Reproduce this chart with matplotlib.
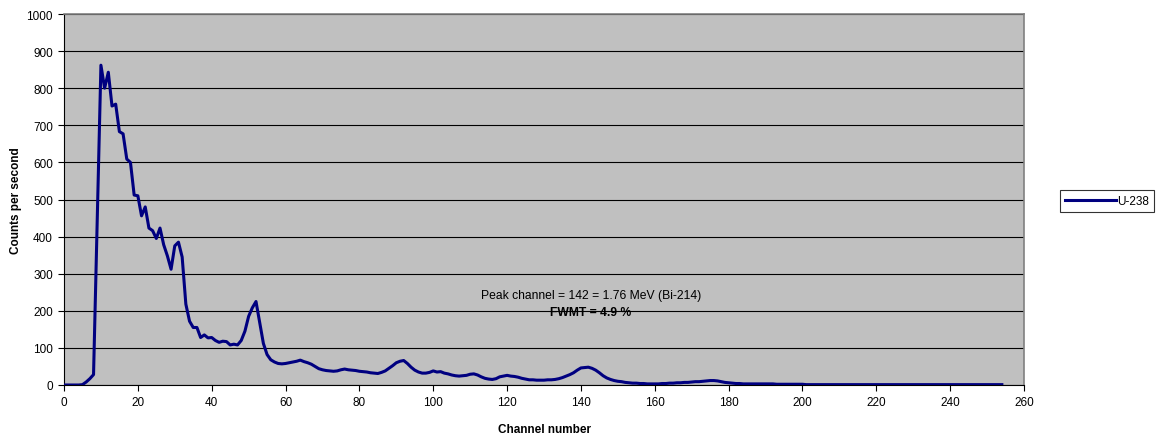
import matplotlib

matplotlib.use("Agg")
import matplotlib.pyplot as plt
import numpy as np

# U-238 gamma spectrum, counts per second per channel (channels 0..254)
counts_0_59 = [
    0, 0, 0, 0, 0, 1, 8, 17, 28, 450,
    862, 800, 843, 752, 757, 683, 677, 609, 600, 512,
    510, 456, 480, 423, 416, 395, 423, 378, 348, 312,
    375, 385, 345, 218, 172, 155, 155, 128, 135, 127,
    128, 120, 115, 118, 117, 108, 110, 108, 120, 145,
    185, 208, 225, 168, 112, 82, 68, 62, 58, 57,
]
counts_60_119 = [
    58, 60, 62, 64, 67, 63, 60, 56, 50, 44,
    41, 39, 38, 37, 38, 41, 43, 41, 40, 39,
    37, 36, 35, 33, 32, 31, 34, 38, 45, 52,
    60, 64, 66, 58, 48, 40, 35, 32, 32, 34,
    38, 35, 36, 32, 30, 27, 25, 24, 25, 26,
    29, 30, 27, 22, 18, 16, 15, 17, 22, 24,
]
counts_120_179 = [
    26, 24, 23, 21, 18, 16, 14, 14, 13, 13,
    13, 14, 14, 15, 17, 20, 24, 28, 33, 40,
    46, 47, 48, 45, 40, 33, 25, 19, 15, 12,
    10, 9, 7, 6, 5, 5, 4, 4, 3, 3,
    3, 3, 4, 4, 5, 5, 6, 6, 7, 7,
    8, 9, 9, 10, 11, 12, 12, 11, 9, 7,
]
counts_180_254 = [
    6, 5, 4, 4, 3, 3, 3, 3, 3, 3,
    3, 3, 3, 2, 2, 2, 2, 2, 2, 2,
    2, 1, 1, 1, 1, 1, 1, 1, 1, 1,
    1, 1, 1, 1, 1, 1, 1, 1, 1, 1,
    1, 1, 1, 1, 1, 1, 1, 1, 1, 1,
    1, 1, 1, 1, 1, 1, 1, 1, 1, 1,
    1, 1, 1, 1, 1, 1, 1, 1, 1, 1,
    1, 1, 1, 1, 1,
]
counts = np.array(counts_0_59 + counts_60_119 + counts_120_179 + counts_180_254, dtype=float)
channels = np.arange(len(counts))

SERIES = "U-238"
PEAK_NOTE = "Peak channel = 142 = 1.76 MeV (Bi-214)"
FWMT_NOTE = "FWMT = 4.9 %"

plt.rcParams["font.family"] = ["Liberation Sans", "DejaVu Sans"]

fig = plt.figure(figsize=(11.57, 4.39), dpi=100)
ax = fig.add_axes([64 / 1157, 53 / 439, 960 / 1157, 371 / 439])
ax.set_facecolor("#C0C0C0")

ax.plot(channels, counts, color="#000080", lw=2.2, label=SERIES, solid_joinstyle="round", zorder=3)

ax.set_xlim(0, 260)
ax.set_ylim(0, 1000)
ax.set_xticks(np.arange(0, 261, 20))
ax.set_yticks(np.arange(0, 1001, 100))
ax.yaxis.grid(True, color="black", lw=0.8)
ax.set_axisbelow(True)
ax.tick_params(labelsize=8.5, direction="out", length=4, width=0.8, color="black", pad=4)

for side in ("top", "right"):
    ax.spines[side].set_color("#808080")
    ax.spines[side].set_linewidth(1.2)
for side in ("left", "bottom"):
    ax.spines[side].set_color("black")
    ax.spines[side].set_linewidth(0.8)

ax.set_xlabel("Channel number", fontsize=8.5, fontweight="bold", labelpad=11)
ax.set_ylabel("Counts per second", fontsize=8.5, fontweight="bold", labelpad=3)

ax.text(142.7, 243, PEAK_NOTE, ha="center", va="center", fontsize=8.7)
ax.text(142.7, 197, FWMT_NOTE, ha="center", va="center", fontsize=8.7, fontweight="bold")

leg = fig.legend(loc="center", bbox_to_anchor=(1107 / 1157, 1 - 202 / 439), fontsize=8.5,
                 frameon=True, fancybox=False, edgecolor="black", handlelength=4.3,
                 borderpad=0.4, handletextpad=0.1)
leg.get_frame().set_linewidth(0.8)

fig.savefig("out.png", dpi=100, facecolor="white")
